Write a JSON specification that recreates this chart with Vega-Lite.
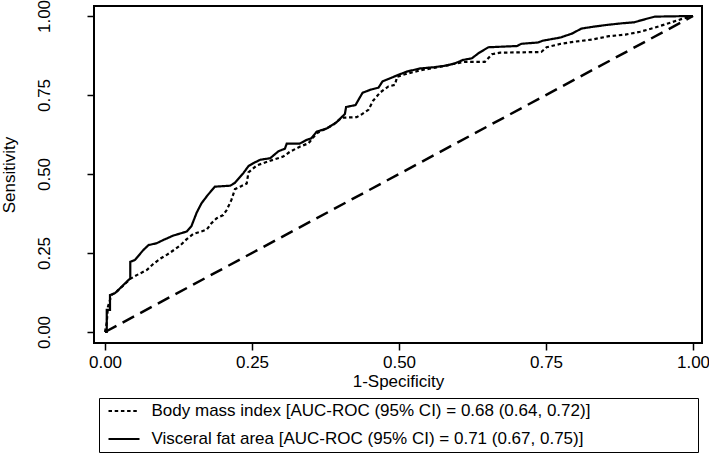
{
  "$schema": "https://vega.github.io/schema/vega-lite/v6.json",
  "width": 608,
  "height": 337,
  "autosize": {"type": "none"},
  "padding": {"left": 94, "top": 6, "right": 7, "bottom": 111},
  "background": "white",
  "config": {
    "font": "Liberation Sans",
    "view": {"stroke": "black", "strokeWidth": 2},
    "axis": {"domain": false, "grid": false, "tickColor": "black", "tickWidth": 1.5, "tickSize": 7, "labelColor": "black", "titleColor": "black", "labelFontSize": 17, "titleFontSize": 17, "titleFontWeight": "normal", "labelFont": "Liberation Sans", "titleFont": "Liberation Sans", "labelFlush": false, "labelOverlap": false}
  },
  "datasets": {
    "diag": [
      {"fpr": 0, "tpr": 0},
      {"fpr": 1, "tpr": 1}
    ],
    "roc": [
      {"series": "Body mass index [AUC-ROC (95% CI) = 0.68 (0.64, 0.72)]", "i": 0, "fpr": 0, "tpr": 0},
      {"series": "Body mass index [AUC-ROC (95% CI) = 0.68 (0.64, 0.72)]", "i": 1, "fpr": 0.003, "tpr": 0.03},
      {"series": "Body mass index [AUC-ROC (95% CI) = 0.68 (0.64, 0.72)]", "i": 2, "fpr": 0.005, "tpr": 0.08},
      {"series": "Body mass index [AUC-ROC (95% CI) = 0.68 (0.64, 0.72)]", "i": 3, "fpr": 0.011, "tpr": 0.117},
      {"series": "Body mass index [AUC-ROC (95% CI) = 0.68 (0.64, 0.72)]", "i": 4, "fpr": 0.02, "tpr": 0.128},
      {"series": "Body mass index [AUC-ROC (95% CI) = 0.68 (0.64, 0.72)]", "i": 5, "fpr": 0.043, "tpr": 0.168},
      {"series": "Body mass index [AUC-ROC (95% CI) = 0.68 (0.64, 0.72)]", "i": 6, "fpr": 0.054, "tpr": 0.18},
      {"series": "Body mass index [AUC-ROC (95% CI) = 0.68 (0.64, 0.72)]", "i": 7, "fpr": 0.071, "tpr": 0.196},
      {"series": "Body mass index [AUC-ROC (95% CI) = 0.68 (0.64, 0.72)]", "i": 8, "fpr": 0.082, "tpr": 0.215},
      {"series": "Body mass index [AUC-ROC (95% CI) = 0.68 (0.64, 0.72)]", "i": 9, "fpr": 0.094, "tpr": 0.232},
      {"series": "Body mass index [AUC-ROC (95% CI) = 0.68 (0.64, 0.72)]", "i": 10, "fpr": 0.105, "tpr": 0.244},
      {"series": "Body mass index [AUC-ROC (95% CI) = 0.68 (0.64, 0.72)]", "i": 11, "fpr": 0.116, "tpr": 0.258},
      {"series": "Body mass index [AUC-ROC (95% CI) = 0.68 (0.64, 0.72)]", "i": 12, "fpr": 0.128, "tpr": 0.274},
      {"series": "Body mass index [AUC-ROC (95% CI) = 0.68 (0.64, 0.72)]", "i": 13, "fpr": 0.139, "tpr": 0.294},
      {"series": "Body mass index [AUC-ROC (95% CI) = 0.68 (0.64, 0.72)]", "i": 14, "fpr": 0.15, "tpr": 0.31},
      {"series": "Body mass index [AUC-ROC (95% CI) = 0.68 (0.64, 0.72)]", "i": 15, "fpr": 0.162, "tpr": 0.317},
      {"series": "Body mass index [AUC-ROC (95% CI) = 0.68 (0.64, 0.72)]", "i": 16, "fpr": 0.173, "tpr": 0.324},
      {"series": "Body mass index [AUC-ROC (95% CI) = 0.68 (0.64, 0.72)]", "i": 17, "fpr": 0.181, "tpr": 0.344},
      {"series": "Body mass index [AUC-ROC (95% CI) = 0.68 (0.64, 0.72)]", "i": 18, "fpr": 0.19, "tpr": 0.36},
      {"series": "Body mass index [AUC-ROC (95% CI) = 0.68 (0.64, 0.72)]", "i": 19, "fpr": 0.201, "tpr": 0.37},
      {"series": "Body mass index [AUC-ROC (95% CI) = 0.68 (0.64, 0.72)]", "i": 20, "fpr": 0.207, "tpr": 0.386},
      {"series": "Body mass index [AUC-ROC (95% CI) = 0.68 (0.64, 0.72)]", "i": 21, "fpr": 0.215, "tpr": 0.418},
      {"series": "Body mass index [AUC-ROC (95% CI) = 0.68 (0.64, 0.72)]", "i": 22, "fpr": 0.221, "tpr": 0.452},
      {"series": "Body mass index [AUC-ROC (95% CI) = 0.68 (0.64, 0.72)]", "i": 23, "fpr": 0.23, "tpr": 0.46},
      {"series": "Body mass index [AUC-ROC (95% CI) = 0.68 (0.64, 0.72)]", "i": 24, "fpr": 0.241, "tpr": 0.47},
      {"series": "Body mass index [AUC-ROC (95% CI) = 0.68 (0.64, 0.72)]", "i": 25, "fpr": 0.244, "tpr": 0.505},
      {"series": "Body mass index [AUC-ROC (95% CI) = 0.68 (0.64, 0.72)]", "i": 26, "fpr": 0.258, "tpr": 0.527},
      {"series": "Body mass index [AUC-ROC (95% CI) = 0.68 (0.64, 0.72)]", "i": 27, "fpr": 0.281, "tpr": 0.542},
      {"series": "Body mass index [AUC-ROC (95% CI) = 0.68 (0.64, 0.72)]", "i": 28, "fpr": 0.303, "tpr": 0.555},
      {"series": "Body mass index [AUC-ROC (95% CI) = 0.68 (0.64, 0.72)]", "i": 29, "fpr": 0.315, "tpr": 0.571},
      {"series": "Body mass index [AUC-ROC (95% CI) = 0.68 (0.64, 0.72)]", "i": 30, "fpr": 0.332, "tpr": 0.587},
      {"series": "Body mass index [AUC-ROC (95% CI) = 0.68 (0.64, 0.72)]", "i": 31, "fpr": 0.346, "tpr": 0.597},
      {"series": "Body mass index [AUC-ROC (95% CI) = 0.68 (0.64, 0.72)]", "i": 32, "fpr": 0.36, "tpr": 0.629},
      {"series": "Body mass index [AUC-ROC (95% CI) = 0.68 (0.64, 0.72)]", "i": 33, "fpr": 0.388, "tpr": 0.655},
      {"series": "Body mass index [AUC-ROC (95% CI) = 0.68 (0.64, 0.72)]", "i": 34, "fpr": 0.402, "tpr": 0.678},
      {"series": "Body mass index [AUC-ROC (95% CI) = 0.68 (0.64, 0.72)]", "i": 35, "fpr": 0.428, "tpr": 0.68},
      {"series": "Body mass index [AUC-ROC (95% CI) = 0.68 (0.64, 0.72)]", "i": 36, "fpr": 0.436, "tpr": 0.688},
      {"series": "Body mass index [AUC-ROC (95% CI) = 0.68 (0.64, 0.72)]", "i": 37, "fpr": 0.448, "tpr": 0.703},
      {"series": "Body mass index [AUC-ROC (95% CI) = 0.68 (0.64, 0.72)]", "i": 38, "fpr": 0.456, "tpr": 0.732},
      {"series": "Body mass index [AUC-ROC (95% CI) = 0.68 (0.64, 0.72)]", "i": 39, "fpr": 0.468, "tpr": 0.758},
      {"series": "Body mass index [AUC-ROC (95% CI) = 0.68 (0.64, 0.72)]", "i": 40, "fpr": 0.482, "tpr": 0.777},
      {"series": "Body mass index [AUC-ROC (95% CI) = 0.68 (0.64, 0.72)]", "i": 41, "fpr": 0.493, "tpr": 0.782},
      {"series": "Body mass index [AUC-ROC (95% CI) = 0.68 (0.64, 0.72)]", "i": 42, "fpr": 0.497, "tpr": 0.808},
      {"series": "Body mass index [AUC-ROC (95% CI) = 0.68 (0.64, 0.72)]", "i": 43, "fpr": 0.513, "tpr": 0.817},
      {"series": "Body mass index [AUC-ROC (95% CI) = 0.68 (0.64, 0.72)]", "i": 44, "fpr": 0.536, "tpr": 0.828},
      {"series": "Body mass index [AUC-ROC (95% CI) = 0.68 (0.64, 0.72)]", "i": 45, "fpr": 0.564, "tpr": 0.837},
      {"series": "Body mass index [AUC-ROC (95% CI) = 0.68 (0.64, 0.72)]", "i": 46, "fpr": 0.592, "tpr": 0.848},
      {"series": "Body mass index [AUC-ROC (95% CI) = 0.68 (0.64, 0.72)]", "i": 47, "fpr": 0.612, "tpr": 0.855},
      {"series": "Body mass index [AUC-ROC (95% CI) = 0.68 (0.64, 0.72)]", "i": 48, "fpr": 0.646, "tpr": 0.855},
      {"series": "Body mass index [AUC-ROC (95% CI) = 0.68 (0.64, 0.72)]", "i": 49, "fpr": 0.658, "tpr": 0.879},
      {"series": "Body mass index [AUC-ROC (95% CI) = 0.68 (0.64, 0.72)]", "i": 50, "fpr": 0.672, "tpr": 0.884},
      {"series": "Body mass index [AUC-ROC (95% CI) = 0.68 (0.64, 0.72)]", "i": 51, "fpr": 0.742, "tpr": 0.886},
      {"series": "Body mass index [AUC-ROC (95% CI) = 0.68 (0.64, 0.72)]", "i": 52, "fpr": 0.751, "tpr": 0.901},
      {"series": "Body mass index [AUC-ROC (95% CI) = 0.68 (0.64, 0.72)]", "i": 53, "fpr": 0.775, "tpr": 0.912},
      {"series": "Body mass index [AUC-ROC (95% CI) = 0.68 (0.64, 0.72)]", "i": 54, "fpr": 0.8, "tpr": 0.919},
      {"series": "Body mass index [AUC-ROC (95% CI) = 0.68 (0.64, 0.72)]", "i": 55, "fpr": 0.83, "tpr": 0.926},
      {"series": "Body mass index [AUC-ROC (95% CI) = 0.68 (0.64, 0.72)]", "i": 56, "fpr": 0.857, "tpr": 0.936},
      {"series": "Body mass index [AUC-ROC (95% CI) = 0.68 (0.64, 0.72)]", "i": 57, "fpr": 0.885, "tpr": 0.941},
      {"series": "Body mass index [AUC-ROC (95% CI) = 0.68 (0.64, 0.72)]", "i": 58, "fpr": 0.91, "tpr": 0.95},
      {"series": "Body mass index [AUC-ROC (95% CI) = 0.68 (0.64, 0.72)]", "i": 59, "fpr": 0.935, "tpr": 0.963},
      {"series": "Body mass index [AUC-ROC (95% CI) = 0.68 (0.64, 0.72)]", "i": 60, "fpr": 0.96, "tpr": 0.978},
      {"series": "Body mass index [AUC-ROC (95% CI) = 0.68 (0.64, 0.72)]", "i": 61, "fpr": 0.98, "tpr": 0.99},
      {"series": "Body mass index [AUC-ROC (95% CI) = 0.68 (0.64, 0.72)]", "i": 62, "fpr": 1, "tpr": 1},
      {"series": "Visceral fat area [AUC-ROC (95% CI) = 0.71 (0.67, 0.75)]", "i": 0, "fpr": 0, "tpr": 0},
      {"series": "Visceral fat area [AUC-ROC (95% CI) = 0.71 (0.67, 0.75)]", "i": 1, "fpr": 0.003, "tpr": 0.0},
      {"series": "Visceral fat area [AUC-ROC (95% CI) = 0.71 (0.67, 0.75)]", "i": 2, "fpr": 0.003, "tpr": 0.07},
      {"series": "Visceral fat area [AUC-ROC (95% CI) = 0.71 (0.67, 0.75)]", "i": 3, "fpr": 0.0085, "tpr": 0.07},
      {"series": "Visceral fat area [AUC-ROC (95% CI) = 0.71 (0.67, 0.75)]", "i": 4, "fpr": 0.0085, "tpr": 0.117},
      {"series": "Visceral fat area [AUC-ROC (95% CI) = 0.71 (0.67, 0.75)]", "i": 5, "fpr": 0.017, "tpr": 0.123},
      {"series": "Visceral fat area [AUC-ROC (95% CI) = 0.71 (0.67, 0.75)]", "i": 6, "fpr": 0.026, "tpr": 0.139},
      {"series": "Visceral fat area [AUC-ROC (95% CI) = 0.71 (0.67, 0.75)]", "i": 7, "fpr": 0.043, "tpr": 0.17},
      {"series": "Visceral fat area [AUC-ROC (95% CI) = 0.71 (0.67, 0.75)]", "i": 8, "fpr": 0.043, "tpr": 0.222},
      {"series": "Visceral fat area [AUC-ROC (95% CI) = 0.71 (0.67, 0.75)]", "i": 9, "fpr": 0.051, "tpr": 0.228},
      {"series": "Visceral fat area [AUC-ROC (95% CI) = 0.71 (0.67, 0.75)]", "i": 10, "fpr": 0.065, "tpr": 0.259},
      {"series": "Visceral fat area [AUC-ROC (95% CI) = 0.71 (0.67, 0.75)]", "i": 11, "fpr": 0.074, "tpr": 0.275},
      {"series": "Visceral fat area [AUC-ROC (95% CI) = 0.71 (0.67, 0.75)]", "i": 12, "fpr": 0.088, "tpr": 0.281},
      {"series": "Visceral fat area [AUC-ROC (95% CI) = 0.71 (0.67, 0.75)]", "i": 13, "fpr": 0.099, "tpr": 0.291},
      {"series": "Visceral fat area [AUC-ROC (95% CI) = 0.71 (0.67, 0.75)]", "i": 14, "fpr": 0.116, "tpr": 0.305},
      {"series": "Visceral fat area [AUC-ROC (95% CI) = 0.71 (0.67, 0.75)]", "i": 15, "fpr": 0.139, "tpr": 0.318},
      {"series": "Visceral fat area [AUC-ROC (95% CI) = 0.71 (0.67, 0.75)]", "i": 16, "fpr": 0.147, "tpr": 0.335},
      {"series": "Visceral fat area [AUC-ROC (95% CI) = 0.71 (0.67, 0.75)]", "i": 17, "fpr": 0.156, "tpr": 0.378},
      {"series": "Visceral fat area [AUC-ROC (95% CI) = 0.71 (0.67, 0.75)]", "i": 18, "fpr": 0.164, "tpr": 0.407},
      {"series": "Visceral fat area [AUC-ROC (95% CI) = 0.71 (0.67, 0.75)]", "i": 19, "fpr": 0.175, "tpr": 0.434},
      {"series": "Visceral fat area [AUC-ROC (95% CI) = 0.71 (0.67, 0.75)]", "i": 20, "fpr": 0.187, "tpr": 0.46},
      {"series": "Visceral fat area [AUC-ROC (95% CI) = 0.71 (0.67, 0.75)]", "i": 21, "fpr": 0.213, "tpr": 0.463},
      {"series": "Visceral fat area [AUC-ROC (95% CI) = 0.71 (0.67, 0.75)]", "i": 22, "fpr": 0.221, "tpr": 0.472},
      {"series": "Visceral fat area [AUC-ROC (95% CI) = 0.71 (0.67, 0.75)]", "i": 23, "fpr": 0.235, "tpr": 0.502},
      {"series": "Visceral fat area [AUC-ROC (95% CI) = 0.71 (0.67, 0.75)]", "i": 24, "fpr": 0.244, "tpr": 0.525},
      {"series": "Visceral fat area [AUC-ROC (95% CI) = 0.71 (0.67, 0.75)]", "i": 25, "fpr": 0.252, "tpr": 0.534},
      {"series": "Visceral fat area [AUC-ROC (95% CI) = 0.71 (0.67, 0.75)]", "i": 26, "fpr": 0.264, "tpr": 0.545},
      {"series": "Visceral fat area [AUC-ROC (95% CI) = 0.71 (0.67, 0.75)]", "i": 27, "fpr": 0.281, "tpr": 0.55},
      {"series": "Visceral fat area [AUC-ROC (95% CI) = 0.71 (0.67, 0.75)]", "i": 28, "fpr": 0.295, "tpr": 0.572},
      {"series": "Visceral fat area [AUC-ROC (95% CI) = 0.71 (0.67, 0.75)]", "i": 29, "fpr": 0.306, "tpr": 0.58},
      {"series": "Visceral fat area [AUC-ROC (95% CI) = 0.71 (0.67, 0.75)]", "i": 30, "fpr": 0.309, "tpr": 0.596},
      {"series": "Visceral fat area [AUC-ROC (95% CI) = 0.71 (0.67, 0.75)]", "i": 31, "fpr": 0.331, "tpr": 0.596},
      {"series": "Visceral fat area [AUC-ROC (95% CI) = 0.71 (0.67, 0.75)]", "i": 32, "fpr": 0.343, "tpr": 0.608},
      {"series": "Visceral fat area [AUC-ROC (95% CI) = 0.71 (0.67, 0.75)]", "i": 33, "fpr": 0.351, "tpr": 0.613},
      {"series": "Visceral fat area [AUC-ROC (95% CI) = 0.71 (0.67, 0.75)]", "i": 34, "fpr": 0.36, "tpr": 0.634},
      {"series": "Visceral fat area [AUC-ROC (95% CI) = 0.71 (0.67, 0.75)]", "i": 35, "fpr": 0.377, "tpr": 0.644},
      {"series": "Visceral fat area [AUC-ROC (95% CI) = 0.71 (0.67, 0.75)]", "i": 36, "fpr": 0.394, "tpr": 0.664},
      {"series": "Visceral fat area [AUC-ROC (95% CI) = 0.71 (0.67, 0.75)]", "i": 37, "fpr": 0.408, "tpr": 0.69},
      {"series": "Visceral fat area [AUC-ROC (95% CI) = 0.71 (0.67, 0.75)]", "i": 38, "fpr": 0.41, "tpr": 0.712},
      {"series": "Visceral fat area [AUC-ROC (95% CI) = 0.71 (0.67, 0.75)]", "i": 39, "fpr": 0.426, "tpr": 0.718},
      {"series": "Visceral fat area [AUC-ROC (95% CI) = 0.71 (0.67, 0.75)]", "i": 40, "fpr": 0.438, "tpr": 0.757},
      {"series": "Visceral fat area [AUC-ROC (95% CI) = 0.71 (0.67, 0.75)]", "i": 41, "fpr": 0.452, "tpr": 0.767},
      {"series": "Visceral fat area [AUC-ROC (95% CI) = 0.71 (0.67, 0.75)]", "i": 42, "fpr": 0.465, "tpr": 0.773},
      {"series": "Visceral fat area [AUC-ROC (95% CI) = 0.71 (0.67, 0.75)]", "i": 43, "fpr": 0.472, "tpr": 0.793},
      {"series": "Visceral fat area [AUC-ROC (95% CI) = 0.71 (0.67, 0.75)]", "i": 44, "fpr": 0.485, "tpr": 0.803},
      {"series": "Visceral fat area [AUC-ROC (95% CI) = 0.71 (0.67, 0.75)]", "i": 45, "fpr": 0.498, "tpr": 0.813},
      {"series": "Visceral fat area [AUC-ROC (95% CI) = 0.71 (0.67, 0.75)]", "i": 46, "fpr": 0.513, "tpr": 0.824},
      {"series": "Visceral fat area [AUC-ROC (95% CI) = 0.71 (0.67, 0.75)]", "i": 47, "fpr": 0.536, "tpr": 0.834},
      {"series": "Visceral fat area [AUC-ROC (95% CI) = 0.71 (0.67, 0.75)]", "i": 48, "fpr": 0.56, "tpr": 0.838},
      {"series": "Visceral fat area [AUC-ROC (95% CI) = 0.71 (0.67, 0.75)]", "i": 49, "fpr": 0.58, "tpr": 0.843},
      {"series": "Visceral fat area [AUC-ROC (95% CI) = 0.71 (0.67, 0.75)]", "i": 50, "fpr": 0.595, "tpr": 0.85},
      {"series": "Visceral fat area [AUC-ROC (95% CI) = 0.71 (0.67, 0.75)]", "i": 51, "fpr": 0.609, "tpr": 0.861},
      {"series": "Visceral fat area [AUC-ROC (95% CI) = 0.71 (0.67, 0.75)]", "i": 52, "fpr": 0.624, "tpr": 0.866},
      {"series": "Visceral fat area [AUC-ROC (95% CI) = 0.71 (0.67, 0.75)]", "i": 53, "fpr": 0.635, "tpr": 0.882},
      {"series": "Visceral fat area [AUC-ROC (95% CI) = 0.71 (0.67, 0.75)]", "i": 54, "fpr": 0.652, "tpr": 0.901},
      {"series": "Visceral fat area [AUC-ROC (95% CI) = 0.71 (0.67, 0.75)]", "i": 55, "fpr": 0.701, "tpr": 0.905},
      {"series": "Visceral fat area [AUC-ROC (95% CI) = 0.71 (0.67, 0.75)]", "i": 56, "fpr": 0.708, "tpr": 0.912},
      {"series": "Visceral fat area [AUC-ROC (95% CI) = 0.71 (0.67, 0.75)]", "i": 57, "fpr": 0.736, "tpr": 0.916},
      {"series": "Visceral fat area [AUC-ROC (95% CI) = 0.71 (0.67, 0.75)]", "i": 58, "fpr": 0.745, "tpr": 0.922},
      {"series": "Visceral fat area [AUC-ROC (95% CI) = 0.71 (0.67, 0.75)]", "i": 59, "fpr": 0.775, "tpr": 0.932},
      {"series": "Visceral fat area [AUC-ROC (95% CI) = 0.71 (0.67, 0.75)]", "i": 60, "fpr": 0.795, "tpr": 0.945},
      {"series": "Visceral fat area [AUC-ROC (95% CI) = 0.71 (0.67, 0.75)]", "i": 61, "fpr": 0.81, "tpr": 0.96},
      {"series": "Visceral fat area [AUC-ROC (95% CI) = 0.71 (0.67, 0.75)]", "i": 62, "fpr": 0.83, "tpr": 0.966},
      {"series": "Visceral fat area [AUC-ROC (95% CI) = 0.71 (0.67, 0.75)]", "i": 63, "fpr": 0.855, "tpr": 0.972},
      {"series": "Visceral fat area [AUC-ROC (95% CI) = 0.71 (0.67, 0.75)]", "i": 64, "fpr": 0.88, "tpr": 0.977},
      {"series": "Visceral fat area [AUC-ROC (95% CI) = 0.71 (0.67, 0.75)]", "i": 65, "fpr": 0.9, "tpr": 0.98},
      {"series": "Visceral fat area [AUC-ROC (95% CI) = 0.71 (0.67, 0.75)]", "i": 66, "fpr": 0.913, "tpr": 0.987},
      {"series": "Visceral fat area [AUC-ROC (95% CI) = 0.71 (0.67, 0.75)]", "i": 67, "fpr": 0.935, "tpr": 0.998},
      {"series": "Visceral fat area [AUC-ROC (95% CI) = 0.71 (0.67, 0.75)]", "i": 68, "fpr": 1, "tpr": 1}
    ]
  },
  "layer": [
    {
      "data": {"name": "diag"},
      "mark": {"type": "line", "color": "black", "strokeWidth": 2.5, "strokeDash": [13, 7]},
      "encoding": {
        "x": {"field": "fpr", "type": "quantitative"},
        "y": {"field": "tpr", "type": "quantitative"}
      }
    },
    {
      "data": {"name": "roc"},
      "mark": {"type": "line", "color": "black", "strokeWidth": 2.2},
      "encoding": {
        "x": {
          "field": "fpr", "type": "quantitative",
          "scale": {"domain": [-0.0187, 1.0153], "nice": false, "zero": false},
          "axis": {"values": [0, 0.25, 0.5, 0.75, 1], "format": ".2f", "title": "1-Specificity", "labelPadding": 4, "titleY": 38, "titleBaseline": "middle", "titleAlign": "center"}
        },
        "y": {
          "field": "tpr", "type": "quantitative",
          "scale": {"domain": [-0.0348, 1.0316], "nice": false, "zero": false},
          "axis": {"values": [0, 0.25, 0.5, 0.75, 1], "format": ".2f", "title": "Sensitivity", "labelAngle": 270, "labelAlign": "center", "labelBaseline": "bottom", "labelPadding": 34, "titleAngle": 270, "titleX": -85, "titleY": 168.5, "titleAlign": "center", "titleBaseline": "middle"}
        },
        "strokeDash": {
          "field": "series", "type": "nominal",
          "scale": {"domain": ["Body mass index [AUC-ROC (95% CI) = 0.68 (0.64, 0.72)]", "Visceral fat area [AUC-ROC (95% CI) = 0.71 (0.67, 0.75)]"], "range": [[3.5, 2.7], [1, 0]]},
          "legend": {
            "orient": "none", "legendX": 5, "legendY": 392,
            "title": " ", "titleOrient": "right", "titlePadding": 103, "titleFontSize": 17,
            "padding": 4.5, "symbolOffset": 12, "symbolType": "M-3.1,0H3.1", "symbolSize": 100,
            "symbolStrokeWidth": 2, "symbolStrokeColor": "black", "symbolFillColor": "transparent",
            "labelFontSize": 17, "labelFont": "Liberation Sans", "labelColor": "black", "labelOffset": 19, "labelLimit": 700,
            "rowPadding": 10, "strokeColor": "black", "fillColor": "white"
          }
        },
        "order": {"field": "i", "type": "quantitative"}
      }
    }
  ]
}
